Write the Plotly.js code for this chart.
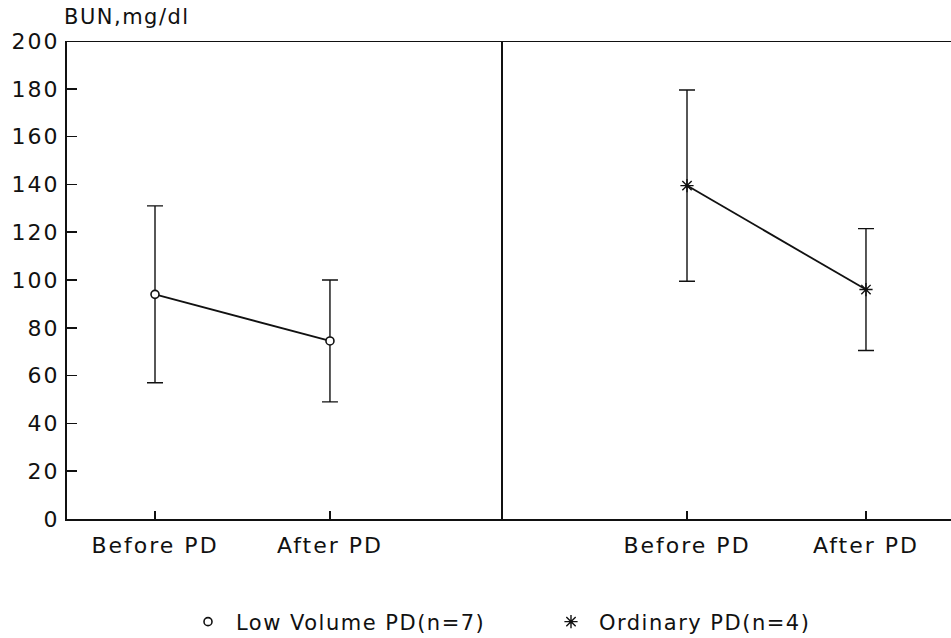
<!DOCTYPE html>
<html>
<head>
<meta charset="utf-8">
<script src="https://cdn.plot.ly/plotly-3.0.1.min.js"></script>
<style>
html,body{margin:0;padding:0;background:#fff;}
#chart{width:951px;height:638px;}
#chart .xtick text, #chart .x2tick text, #chart .ytick text{letter-spacing:2px;}
#chart .legendtext{letter-spacing:1.5px;}
#chart .gtitle{letter-spacing:1.5px;}
</style>
</head>
<body>
<div id="chart"></div>
<script>
var categories = ["Before PD", "After PD"];
var lowMean = [94, 74.5];
var lowErr = [37, 25.5];
var ordMean = [139.5, 96];
var ordErr = [40, 25.5];
var seriesNames = ["Low Volume PD(n=7)", "Ordinary PD(n=4)"];
var yTicks = [0, 20, 40, 60, 80, 100, 120, 140, 160, 180, 200];
var titleText = "BUN,mg/dl";

var FONT = "DejaVu Sans, Liberation Sans, Arial, sans-serif";
var black = "#111";

var traces = [
  {
    x: categories, y: lowMean, xaxis: "x", yaxis: "y",
    type: "scatter", mode: "lines+markers", showlegend: false,
    line: {color: black, width: 1.8},
    marker: {symbol: "circle", size: 8, color: "#fff", line: {color: black, width: 1.6}},
    error_y: {type: "data", array: lowErr, visible: true, color: black, thickness: 1.4, width: 8}
  },
  {
    x: categories, y: ordMean, xaxis: "x2", yaxis: "y2",
    type: "scatter", mode: "lines+markers", showlegend: false,
    line: {color: black, width: 1.8},
    marker: {symbol: "asterisk-open", size: 11, color: black, line: {color: black, width: 1.4}},
    error_y: {type: "data", array: ordErr, visible: true, color: black, thickness: 1.4, width: 8}
  },
  {
    x: [null], y: [null], xaxis: "x", yaxis: "y", name: seriesNames[0],
    type: "scatter", mode: "markers",
    marker: {symbol: "circle", size: 8, color: "#fff", line: {color: black, width: 1.6}}
  },
  {
    x: [null], y: [null], xaxis: "x", yaxis: "y", name: seriesNames[1],
    type: "scatter", mode: "markers",
    marker: {symbol: "asterisk-open", size: 11, color: black, line: {color: black, width: 1.4}}
  }
];

var split = (503 - 67) / 884;
var tickFont = {family: FONT, size: 22, color: black};

var layout = {
  width: 951, height: 638,
  margin: {l: 67, r: 0, t: 41, b: 119},
  paper_bgcolor: "#fff", plot_bgcolor: "#fff",
  font: {family: FONT, color: black, size: 20},
  title: {text: titleText, x: 64/951, xanchor: "left", xref: "container", y: 1 - 17/638, yanchor: "middle", yref: "container", font: {family: FONT, size: 21, color: black}},
  showlegend: true,
  legend: {orientation: "h", xref: "container", yref: "container", x: 180 / 951, xanchor: "left", y: 1 - 622 / 638, yanchor: "middle", font: {family: FONT, size: 21, color: black}, itemwidth: 46, tracegroupgap: 0, entrywidth: 302, entrywidthmode: "pixels"},
  xaxis: {
    domain: [0, split], type: "category", range: [-0.503, 1.989],
    showline: true, linecolor: black, linewidth: 2, mirror: false,
    ticks: "inside", ticklen: 8, tickcolor: black, tickwidth: 1.5,
    showgrid: false, zeroline: false, tickfont: tickFont, ticklabelstandoff: 6,
    anchor: "y", fixedrange: true
  },
  xaxis2: {
    domain: [split, 1], type: "category", range: [-1.028, 1.475],
    showline: true, linecolor: black, linewidth: 2,
    ticks: "inside", ticklen: 8, tickcolor: black, tickwidth: 1.5,
    showgrid: false, zeroline: false, tickfont: tickFont, ticklabelstandoff: 6,
    anchor: "y2", fixedrange: true
  },
  yaxis: {
    domain: [0, 1], range: [0, 200], tickvals: yTicks, ticktext: yTicks.map(String),
    showline: true, linecolor: black, linewidth: 2,
    ticks: "inside", ticklen: 10, tickcolor: black, tickwidth: 1.5,
    showgrid: false, zeroline: false, tickfont: tickFont, ticklabelstandoff: 1,
    anchor: "x", fixedrange: true
  },
  yaxis2: {
    domain: [0, 1], range: [0, 200], showticklabels: false, ticks: "",
    showline: true, linecolor: black, linewidth: 2,
    showgrid: false, zeroline: false, anchor: "x2", fixedrange: true
  },
  shapes: [
    {type: "line", xref: "paper", yref: "y", x0: 0, x1: 1, y0: 200, y1: 200, line: {color: black, width: 2}}
  ]
};

Plotly.newPlot("chart", traces, layout, {displayModeBar: false, staticPlot: true});
</script>
</body>
</html>
